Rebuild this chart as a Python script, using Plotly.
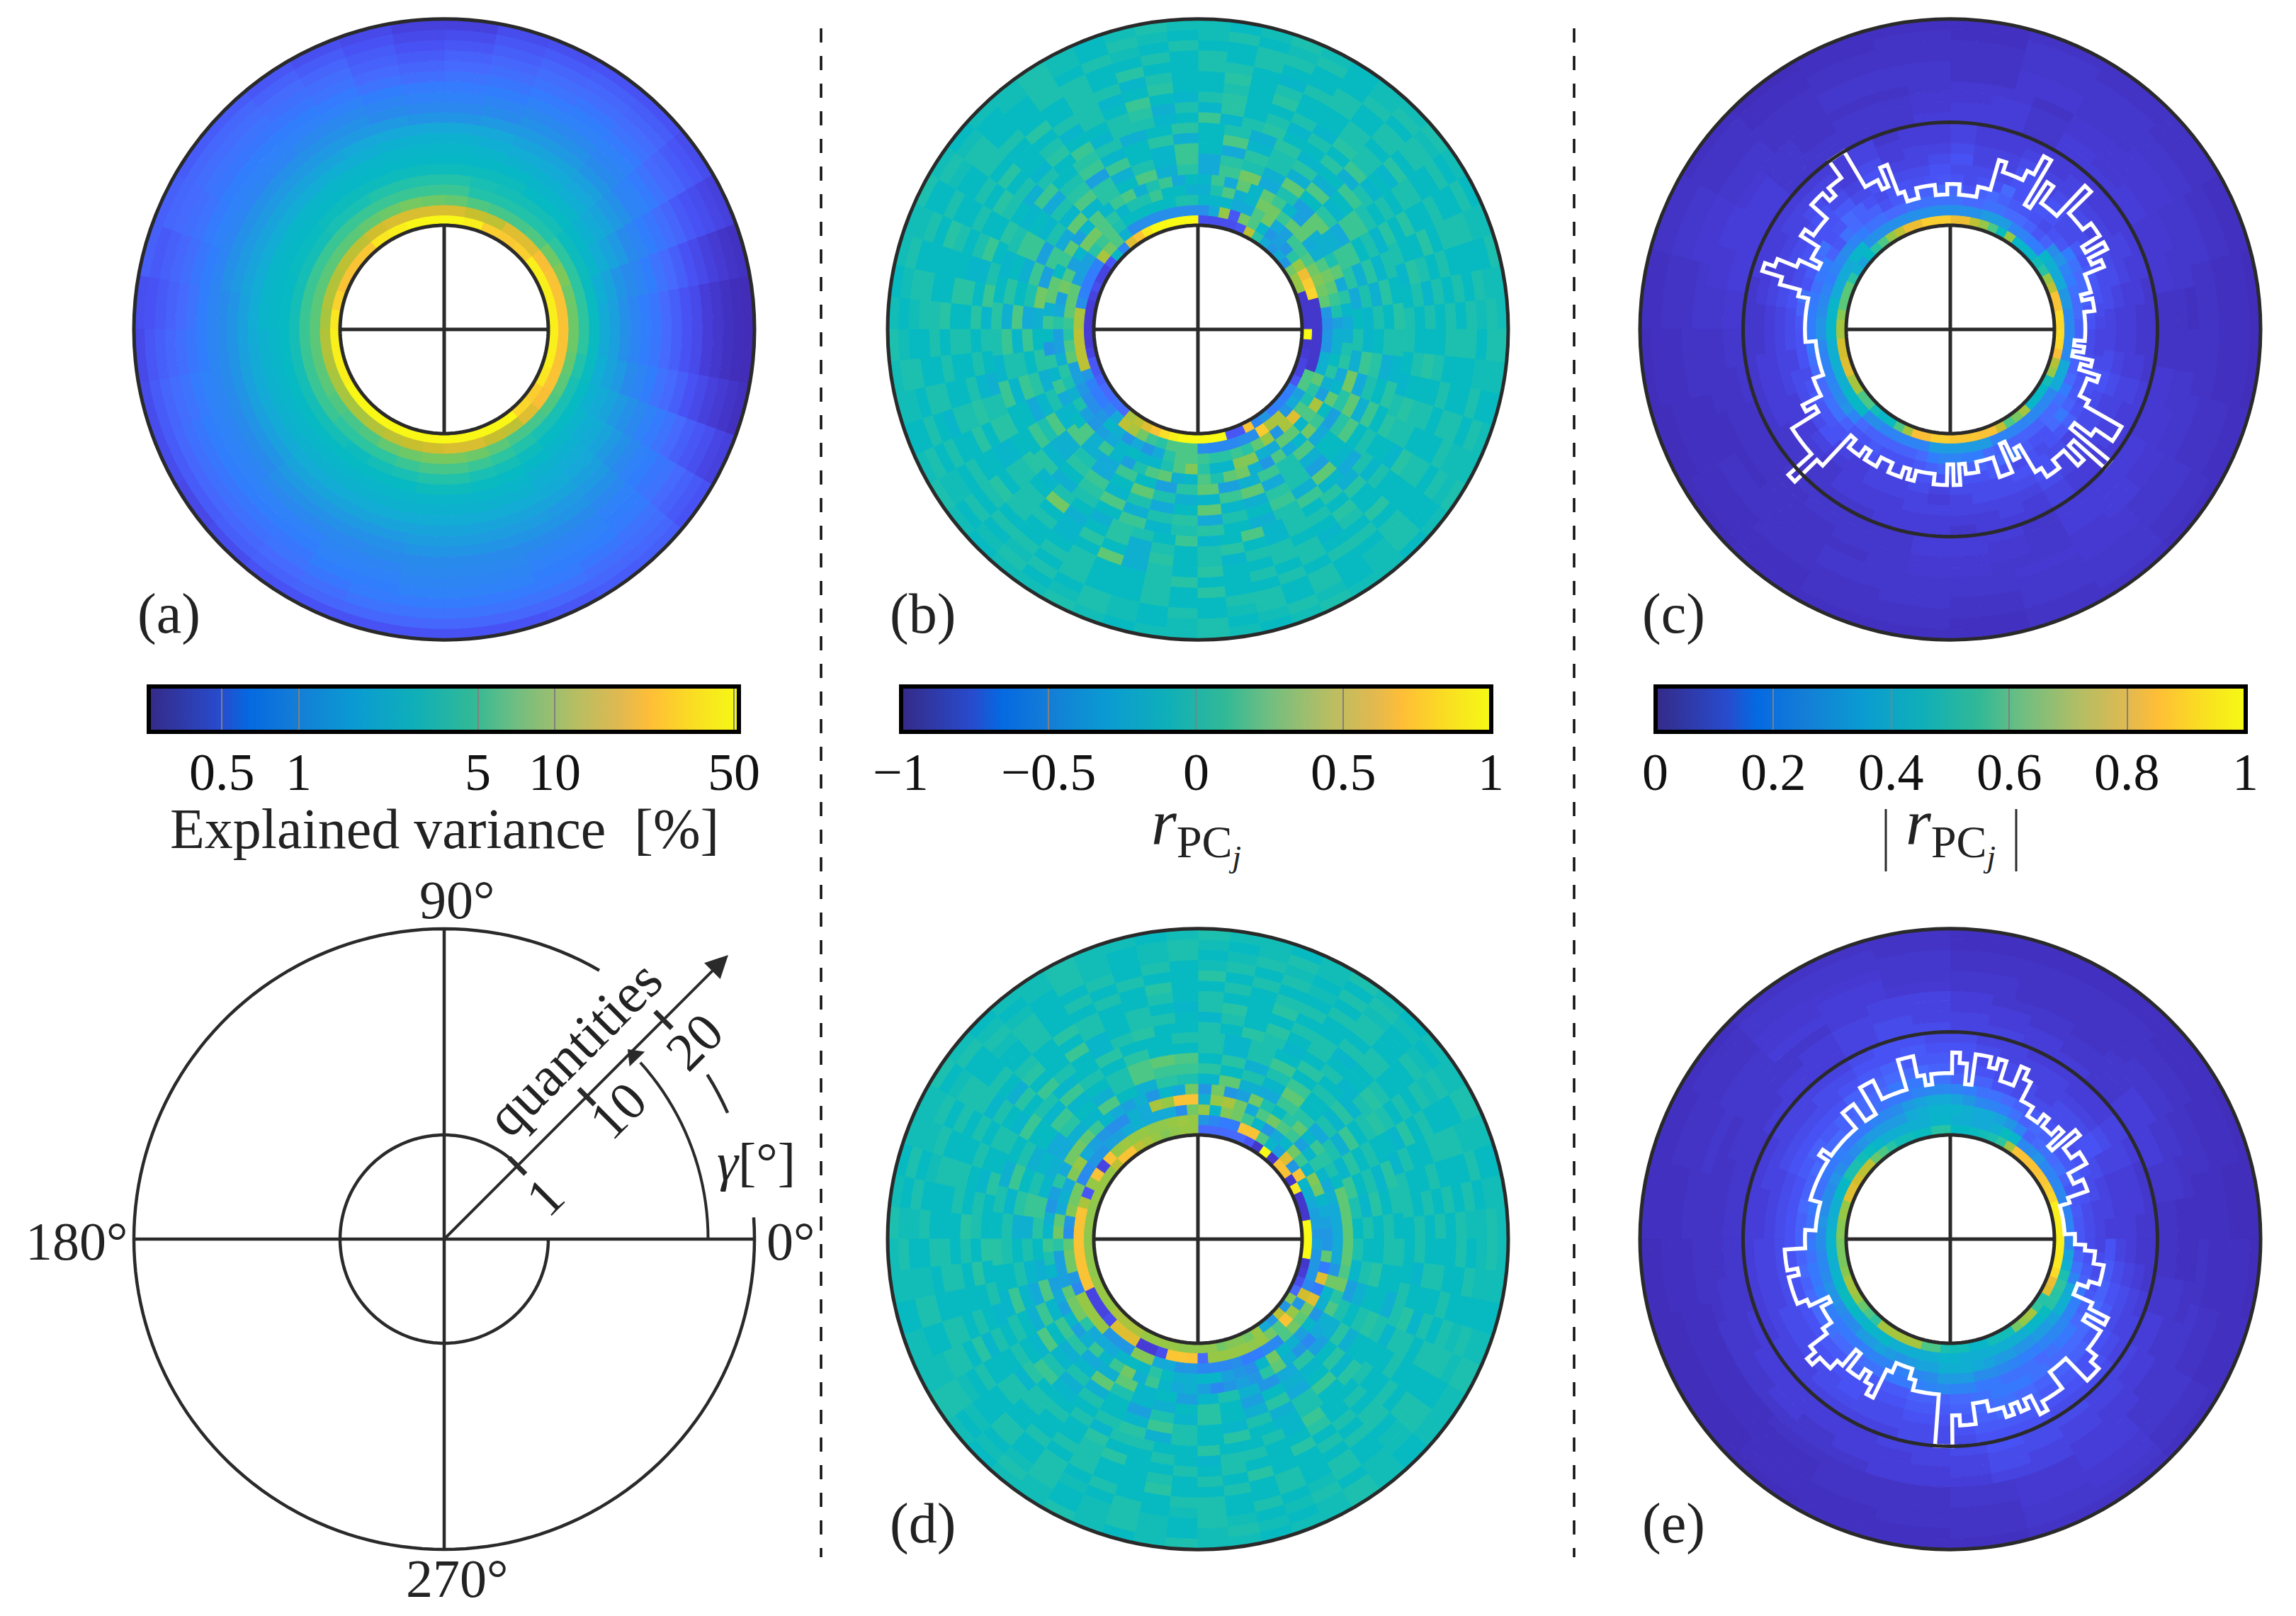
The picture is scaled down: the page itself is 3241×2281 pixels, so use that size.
import math

import plotly.graph_objects as go

W, H = 3241, 2281

# disc colours and the slightly duller colours of the printed colorbars
disc_scale = [
    [0.00, "rgb(62,38,168)"], [0.08, "rgb(70,60,215)"], [0.14, "rgb(72,82,244)"],
    [0.20, "rgb(70,106,253)"], [0.25, "rgb(50,125,253)"], [0.32, "rgb(40,140,235)"],
    [0.40, "rgb(20,170,215)"], [0.47, "rgb(5,185,195)"], [0.55, "rgb(40,195,165)"],
    [0.62, "rgb(90,200,120)"], [0.70, "rgb(150,200,70)"], [0.77, "rgb(205,190,45)"],
    [0.84, "rgb(250,190,55)"], [0.92, "rgb(250,220,40)"], [1.00, "rgb(249,251,20)"],
]
bar_scale = [
    [0.00, "rgb(53,42,135)"], [0.12, "rgb(40,75,205)"], [0.17, "rgb(5,105,225)"],
    [0.25, "rgb(20,125,215)"], [0.35, "rgb(10,155,210)"], [0.45, "rgb(15,175,185)"],
    [0.55, "rgb(50,185,150)"], [0.62, "rgb(110,190,130)"], [0.72, "rgb(180,190,100)"],
    [0.80, "rgb(225,185,80)"], [0.85, "rgb(255,190,55)"], [0.92, "rgb(250,220,35)"],
    [1.00, "rgb(245,250,20)"],
]

# (a) explained variance [%], quantity 1 (inner) to 20 (outer), 10 deg sectors from 0 deg
variance_rings = [
    [45,45,45,45,28,26,28,45,50,50,50,45,40,25,24,24,30,40,45,45,45,50,50,50,50,50,50,50,50,50,50,32,28,40,45,45],
    [24,24,24,22,18,18,14,15,17,17,17,17,16,14,14,13,13,12,13,13,12,12,12,13,14,15,16,17,17,15,14,18,22,24,24,24],
    [8,8,9,8,6.5,6,6,6.5,7.5,8,8.5,8,7.5,7,7,7,7,7,7,7,7,6.5,6,6.5,7.5,8,8.5,8.5,8,7,6,6,6.5,7,7.5,8],
    [5,5,5,5,4.5,4.5,4.5,4.5,5.5,5.5,5.5,5.5,5.5,5.5,5.5,5.5,5.5,5.5,5.5,5.5,5.5,5.5,5,5,5,5.5,6,6,5.5,5,4.5,4,4,4,4.5,5],
    [3.3,3.3,3.5,3.5,3.8,3.8,3.8,4,4.5,4.5,4.5,4.5,4,4,3.8,3.8,3.8,3.8,3.8,3.8,3.8,3.8,3.8,3.5,3.8,4,4.5,4.5,4,3.8,3.5,3.2,3.2,3.2,3.3,3.3],
    [2.2,2.4,2.8,3,3.2,3.2,3.5,3.5,3.5,3.5,3.5,3.5,3.5,3.5,3.3,3.3,3.2,3.2,3.2,3.2,3.2,3.2,3.2,3.2,3.2,3.2,3.5,3.5,3.3,3.2,3,2.8,2.7,2.5,2.4,2.2],
    [1.9,2,2.3,2.5,2.8,2.8,3,3,3,3,3,3,3,3,3,3,3,3,2.8,2.8,2.8,2.8,2.8,2.8,2.8,2.8,2.8,2.8,2.8,2.8,2.6,2.5,2.4,2.2,2,1.9],
    [1.5,1.6,2,2.2,2.4,2.5,2.6,2.7,2.8,2.8,2.8,2.8,2.8,2.8,2.8,2.8,2.8,2.8,2.6,2.6,2.6,2.6,2.6,2.6,2.6,2.6,2.6,2.6,2.6,2.6,2.4,2.3,2.2,2,1.7,1.5],
    [1.2,1.4,1.7,2,2.1,2.2,2.3,2.4,2.5,2.5,2.5,2.4,2.4,2.3,2.3,2.3,2.3,2.3,2.2,2.2,2.2,2.2,2.3,2.3,2.3,2.3,2.3,2.3,2.3,2.3,2.2,2.1,2,1.7,1.4,1.2],
    [1,1.2,1.4,1.7,1.9,2,2,2.1,2.1,2.1,2.1,2.1,2,2,2,2,2,1.9,1.9,1.9,1.9,1.9,2,2,2,2,2,2,2,2,2,1.9,1.7,1.5,1.2,1],
    [0.9,1,1.2,1.5,1.6,1.7,1.7,1.7,1.6,1.6,1.7,1.7,1.7,1.7,1.7,1.7,1.7,1.6,1.6,1.6,1.6,1.6,1.7,1.7,1.7,1.7,1.8,1.8,1.8,1.8,1.7,1.7,1.5,1.3,1,0.9],
    [0.75,0.85,1,1.2,1.4,1.5,1.5,1.4,1.3,1.3,1.4,1.5,1.5,1.5,1.5,1.5,1.5,1.4,1.4,1.4,1.4,1.4,1.5,1.5,1.5,1.5,1.6,1.6,1.6,1.6,1.6,1.5,1.3,1.1,0.85,0.75],
    [0.65,0.75,0.9,1.1,1.2,1.3,1.3,1.2,1.1,1.1,1.2,1.3,1.3,1.2,1.2,1.2,1.2,1.2,1.2,1.2,1.2,1.2,1.3,1.3,1.3,1.4,1.4,1.4,1.4,1.4,1.4,1.3,1.1,0.95,0.75,0.65],
    [0.55,0.65,0.8,0.95,1.1,1.1,1.1,1,0.95,0.95,1,1.1,1.1,1.1,1.1,1.1,1,1,1,1.1,1.1,1.1,1.1,1.1,1.2,1.2,1.3,1.3,1.3,1.2,1.2,1.1,1,0.85,0.65,0.55],
    [0.48,0.55,0.7,0.85,0.95,1,0.95,0.9,0.85,0.8,0.85,0.95,1,1,1,0.95,0.9,0.85,0.9,0.95,1,1,1,1,1.1,1.1,1.2,1.2,1.2,1.1,1.1,1,0.9,0.75,0.55,0.48],
    [0.4,0.48,0.6,0.75,0.85,0.9,0.85,0.8,0.75,0.7,0.75,0.85,0.9,0.9,0.9,0.85,0.8,0.75,0.8,0.85,0.9,0.9,0.9,0.9,1,1,1.1,1.1,1.1,1,1,0.95,0.85,0.65,0.48,0.4],
    [0.36,0.42,0.55,0.7,0.78,0.8,0.78,0.72,0.68,0.62,0.68,0.78,0.82,0.85,0.85,0.8,0.72,0.68,0.72,0.78,0.82,0.82,0.82,0.85,0.9,0.95,0.95,0.95,0.95,0.95,0.9,0.85,0.75,0.58,0.42,0.36],
    [0.33,0.38,0.5,0.62,0.7,0.72,0.7,0.65,0.58,0.55,0.62,0.7,0.76,0.78,0.78,0.75,0.66,0.6,0.65,0.7,0.72,0.72,0.72,0.75,0.8,0.85,0.85,0.85,0.85,0.85,0.8,0.8,0.68,0.52,0.38,0.33],
    [0.31,0.35,0.46,0.56,0.63,0.65,0.62,0.58,0.5,0.48,0.55,0.62,0.68,0.72,0.72,0.72,0.6,0.55,0.58,0.62,0.62,0.62,0.65,0.68,0.7,0.72,0.72,0.72,0.72,0.72,0.72,0.72,0.6,0.46,0.35,0.31],
    [0.3,0.33,0.42,0.5,0.55,0.55,0.52,0.5,0.42,0.42,0.48,0.52,0.58,0.62,0.62,0.66,0.66,0.52,0.48,0.5,0.5,0.47,0.5,0.55,0.55,0.55,0.55,0.55,0.55,0.58,0.62,0.65,0.55,0.42,0.32,0.3],
]

# (b) correlation x100, PC 1
b_rings = [
    [-88,-88,-88,-88,40,40,30,-30,-20,-30,-20,10,50,-70,-75,-75,-75,-75,100,100,100,100,100,90,70,60,-40,-10,-70,-80,-80,-75,-80,-85,-85,-85,-85,-85,-80,-70,-70,-65,-60,-60,-55,-60,45,50,60,70,85,95,100,100,100,100,100,-70,-70,70,-40,-30,-50,-45,-50,-45,-70,-80,-80,-85,-88,100],
    [-88,-88,-88,80,75,65,40,10,-30,-25,-30,-10,20,30,-70,40,-20,-35,-35,-35,-35,-35,-35,-35,-35,-15,20,30,45,-45,-50,-50,-45,-35,45,45,50,50,50,50,-30,-45,-50,-50,-40,-20,50,45,30,15,10,20,20,20,-35,-40,-40,-40,-35,-35,75,45,45,-30,-20,-25,20,20,-88,-88,-88,-88],
    [-35,-30,25,30,35,30,20,15,15,-25,-20,30,20,-20,-20,-10,-10,-10,5,5,-5,-5,-5,-5,-5,5,20,15,10,-25,-25,-25,25,25,25,15,10,20,25,-25,-25,-30,-35,-35,-30,-10,-15,-30,-20,-30,-20,10,20,20,15,10,10,15,10,25,40,-30,45,60,20,5,10,25,-15,-15,-30,-30],
    [-25,5,15,25,30,20,-15,-20,25,25,15,30,30,-10,-15,20,5,-15,-15,-5,-5,15,5,5,-10,10,20,30,30,-10,-25,20,30,-25,-20,10,-25,-25,-15,10,5,-15,5,-25,-30,-25,-20,-10,-5,-10,-10,5,20,35,10,-10,-10,35,35,-15,-20,25,25,-10,20,45,-25,-15,10,-5,-15,-15],
    [-20,-10,10,-20,25,5,-15,-15,25,-25,-10,15,25,-10,25,-20,15,-10,-5,-20,15,5,-15,20,15,-10,20,-10,-25,25,15,-5,25,25,-15,15,-5,-30,10,-10,15,-20,-10,-5,20,-15,15,-10,-25,5,20,25,-15,-10,20,5,25,30,-15,-30,20,-20,-10,30,15,-5,25,-10,-20,10,5,-15],
    [-5,-20,10,15,-15,25,-25,5,-20,30,15,-20,10,-15,20,-5,10,-10,25,-20,15,-25,30,-15,-5,10,-15,5,-10,20,-15,-20,15,-5,-25,10,25,-25,-15,15,5,20,-20,-25,10,30,-15,5],
    [-10,5,-15,15,-20,10,-5,25,-15,5,10,-20,15,-10,5,-15,10,20,-10,5,-25,15,5,-20,15,-5,10,-10,20,-15,5,-20,-5,25,5,-15,-10,15,25,-20,5,-15,-5,10,25,-20,15,-10],
    [5,-15,10,-5,15,-10,20,-15,5,10,-20,-5,15,-10,-5,15,-25,10,5,-10,15,-15,-5,20,-10,5,15,-20,5,-15,10,15,-10,5,-20,-5,25,-10,-15,10,5,-25,-5,20,-15,5,10,-5],
    [-5,10,-10,5,15,-5,-15,10,5,-10,20,-5,-15,10,-5,-10,15,5,-20,-5,15,-5,10,-15,15,5,-10,-5,15,-10,-5,10,20,-15,5,10,-20,5,-5,15,-15,25,-10,-5,15,-5,-15,5],
    [10,-5,5,-10,5,15,-5,-10,10,-15,5,-5,10,-5,-15,5,10,-5,15,-10,5,-10,-5,10,5,-10,15,-5,-5,10,-15,5,-5,15,-10,5,10,-5,-15,5,15,-10,-20,5,-5,10,-10,5],
    [5,-5,-10,5,10,-5,5,-15,10,-5,-5,10,5,-10,15,-5,-10,5,5,-10,15,-5,5,-15,-5,10,-5,5,15,-10,5,-5,-15,5,10,-5,10,-10,5,-5,-15,10,5,-5,15,-10,-5,20,-10,5,-5,10,-15,5,-5,10,5,-10,-5,5],
    [-5,5,10,-5,-5,5,-10,15,-5,5,-10,5,-5,10,-10,5,-15,10,5,-5,-5,10,-10,5,5,-5,15,-10,-5,10,-5,5,-10,5,10,-10,5,-5,30,-15,-5,10,-15,5,-5,5,10,-5,-10,5,5,-5,10,-10,-5,5,10,-5,5,-5],
    [5,-10,5,-5,10,-5,-5,5,10,-10,5,-5,-5,10,5,-10,-5,15,-5,5,-10,5,-5,-5,10,-5,5,-10,10,-5,5,-5,5,10,-5,-10,5,5,-5,-10,10,-5,-15,10,-5,5,-10,5,5,-5,-5,10,-5,5,-10,5,5,-5,10,-5],
    [-5,5,-5,10,-5,5,-10,5,5,-5,-5,10,-5,5,-5,-5,10,-5,-10,5,5,-5,-5,10,-5,5,-5,-5,10,-5,5,-5,-5,5,10,-5,-5,5,5,-10,-5,25,-15,5,-5,10,-5,-5,5,5,-10,5,-5,-5,10,-5,5,-5,5,-5],
    [5,-5,5,-5,-5,5,10,-5,5,-5,-5,5,-5,10,-5,-5,5,-10,5,5,-5,10,-5,-5,5,-5,5,-5,-5,10,-5,5,-5,5,-5,-5,10,5,-5,-5,5,-5,-5,5,10,-5,-5,5,-5,5,-5,-5,10,-5,5,-5,-5,5,-5,5],
    [-5,5,-5,5,5,-5,-5,5,-5,5,5,-10,-5,5,5,-5,-5,10,-5,5,-5,-5,5,5,-5,-5,10,-5,-5,5,5,-5,5,-10,-5,5,5,-5,-5,5,5,-5,-5,5,-5,10,-5,-5,5,-5,5,5,-5,-5,5,-5,5,-5,-5,5],
    [5,-5,-5,5,-5,-5,5,5,-5,5,-5,-5,5,-5,5,-5,5,-5,-5,5,5,-5,-5,5,-5,5,-5,-5,5,5,-5,-5,5,-5,5,-5,-5,5,5,-5,5,-5,-5,5,-5,-5,5,5,-5,5,-5,-5,5,-5,-5,5,5,-5,-5,5],
    [0,5,-5,5,-5,5,5,-5,5,-5,-5,5,5,-5,-5,5,-5,0,5,-5,5,-5,-5,5,0,-5,5,-5,5,0,-5,5,-5,5,-5,0,5,-5,0,5,-5,5,0,-5,5,-5,0,5,-5,5,-5,0,5,-5,5,0,-5,5,0,-5],
    [5,0,-5,0,5,-5,0,5,0,-5,5,0,-5,5,0,-5,0,5,-5,0,5,0,-5,0,5,-5,0,5,0,-5,0,5,0,-5,5,0,-5,0,5,-5,0,5,0,-5,0,5,-5,0,5,0,-5,0,5,-5,0,0,5,-5,0,5],
    [0,0,5,0,-5,0,5,0,0,-5,0,5,0,-5,0,0,5,0,-5,0,5,0,0,-5,0,5,0,0,-5,0,5,0,0,-5,0,5,0,-5,0,0,5,0,-5,0,0,5,0,-5,0,5,0,0,-5,0,5,0,0,-5,0,5],
]

# (c) absolute correlation x100, PC 1
c_rings = [
    [90,92,85,85,75,70,55,50,45,45,45,70,48,60,70,75,82,82,88,88,88,82,82,75,70,60,55,47,38,42,55,62,62,62,68,72,72,78,78,80,80,72,72,60,60,50,45,48,60,72,84,84,88,88,86,86,86,85,85,76,60,66,72,45,46,46,50,70,74,84,90,92],
    [30,30,35,35,40,40,42,45,25,25,28,28,36,36,36,33,33,33,33,33,33,33,33,33,33,33,33,45,45,40,40,40,40,45,45,45,45,42,42,42,42,42,46,46,46,32,32,28,28,28,28,28,36,36,36,36,36,36,28,28,28,28,30,30,30,30,40,40,40,30,30,30],
    [18,20,20,22,25,28,34,32,18,15,18,20,20,22,22,20,20,22,22,22,22,22,20,20,22,22,25,28,32,30,28,25,28,30,32,34,34,30,28,28,28,30,32,34,28,20,18,18,18,18,18,20,25,28,28,25,25,20,18,18,18,18,18,20,20,22,25,20,18,18,16,18],
    [14,15,18,20,20,22,25,15,14,12,14,15,16,18,20,18,14,20,20,18,18,16,16,14,18,18,20,22,15,18,25,24,22,24,25,25,25,24,22,20,20,20,22,22,18,15,14,16,14,14,14,16,18,20,20,18,18,16,20,24,16,14,14,20,24,18,16,15,14,13,12,12],
    [11,12,14,15,16,14,16,12,12,14,15,14,14,20,14,14,12,14,15,14,13,14,15,12,14,18,20,15,14,22,20,16,14,22,18,15,14,14,14,12,14,16,15,15,14,15,12,14,12,12,12,14,14,14,16,14,14,16,14,12,14,12,14,15,18,14,12,14,15,12,10,10],
    [10,12,12,14,12,12,14,12,14,12,12,12,14,12,12,14,12,16,14,14,14,12,14,12,12,10,12,12,12,14,10,8,10,10,12,10,12,12,12,14,14,12,10,12,12,14,12,10],
    [8,10,12,12,10,12,12,10,14,10,10,14,12,10,10,14,10,12,14,12,12,10,12,10,10,10,10,8,8,10,8,8,10,10,10,8,10,12,12,12,14,10,10,12,10,12,10,8],
    [8,8,10,10,10,10,10,10,12,10,10,12,10,10,8,12,8,10,12,10,10,10,10,8,8,8,8,8,8,8,6,8,8,8,10,10,10,10,10,10,12,10,10,10,10,10,8,8],
    [6,8,8,10,8,8,10,8,10,8,8,10,8,8,8,10,8,10,10,10,8,8,8,6,6,8,8,8,6,6,6,8,8,8,8,8,8,8,10,8,10,8,8,10,8,10,8,6],
    [6,6,8,8,8,8,8,8,8,8,8,10,8,8,6,10,8,8,8,8,8,8,6,6,6,6,6,6,6,6,6,6,6,8,8,8,6,8,8,8,10,8,8,8,8,8,6,6],
    [5,7,7,8,8,8,6,8,8,8,6,6,6,6,8,8,8,7,6,6,5,5,6,6,6,6,8,8,8,6,8,8,8,7,7,5],
    [5,7,7,8,7,8,6,8,8,7,6,6,6,6,8,8,8,7,6,5,5,5,5,6,6,6,8,8,7,6,8,8,8,7,7,5],
    [5,6,7,7,7,7,6,8,7,7,6,6,5,6,8,8,7,6,5,5,5,5,5,5,6,6,7,7,7,6,8,8,7,7,6,5],
    [4,6,6,7,7,7,5,7,7,6,5,5,5,6,7,8,7,6,5,5,4,4,5,5,5,6,7,7,6,6,7,8,7,6,6,5],
    [5,6,7,6,7,5,6,6,5,6,7,6,5,4,5,5,6,6,6,7,7,6,6,5],
    [5,6,6,6,7,5,6,6,5,6,7,5,5,4,5,5,6,6,6,6,7,6,5,5],
    [4,5,6,6,6,5,5,5,5,5,6,5,4,4,4,5,5,6,5,6,6,6,5,4],
    [4,5,5,6,6,5,5,5,4,5,6,5,4,4,4,4,5,5,5,6,6,5,5,4],
    [4,4,5,5,6,4,5,4,4,5,5,4,4,3,4,4,5,5,4,5,6,5,4,4],
    [3,4,5,5,5,4,4,4,3,4,5,4,3,3,3,4,4,4,4,5,5,4,4,3],
]

# (d) correlation x100, PC 2
d_rings = [
    [100,100,-88,-88,-88,90,-88,70,70,-88,100,-88,-70,-60,-60,-60,-60,-60,40,40,38,35,40,45,50,70,70,50,40,40,40,40,38,38,38,38,38,38,38,38,40,40,40,40,45,45,45,45,40,40,40,40,38,38,38,38,30,35,35,30,40,-20,-30,50,-30,35,-60,-75,-85,-88,100,100],
    [-30,-25,-25,-20,-15,-10,70,-30,60,-25,-10,20,70,70,-50,-50,-40,-30,40,42,40,38,38,40,40,42,40,70,-80,70,40,-70,45,70,70,70,70,70,70,70,70,-80,-80,-80,-75,60,60,60,-85,-85,-75,72,72,70,-60,40,40,40,40,38,40,30,20,70,40,-30,55,-40,-30,-30,-30,-25],
    [-30,-25,-20,-10,30,35,-10,15,30,-10,-20,-30,-10,15,30,35,-10,40,30,-35,-20,-20,-20,-15,-20,-25,-25,-30,-30,-35,-40,30,30,35,-30,-35,25,30,30,-30,-40,40,40,40,40,-30,-30,-30,35,35,-20,-20,-30,-30,-40,-40,-40,-35,-50,-50,-40,-40,20,30,25,30,60,-50,60,-50,25,-30],
    [-20,-20,-20,-15,-20,-10,10,-10,-25,15,20,30,20,-20,30,45,40,-15,70,70,40,45,-20,-15,-35,-35,-30,-25,-20,40,35,-20,-15,-20,25,30,10,-25,-25,-25,25,30,30,10,-20,-20,-20,-10,-5,-10,10,-5,-15,-15,-10,-10,-25,-30,-35,-10,30,-10,-15,-25,-10,-30,-15,-10,30,-30,-20,-20],
    [25,25,25,25,-5,5,10,15,-10,25,10,-5,5,30,-25,-30,30,-30,30,-20,-10,-30,-15,-25,-20,-10,15,25,30,30,-20,10,-25,-30,-15,-10,15,5,-10,-25,-20,-25,-10,-25,-15,15,-10,15,30,-15,15,-10,-20,-15,-25,-40,-30,-25,-30,10,25,-15,-30,-40,-20,-15,20,10,30,20,25,25],
    [-5,5,15,-10,5,-20,10,15,-20,-15,25,-10,5,10,-15,-5,20,-10,-15,-20,-15,-10,15,10,-5,-15,20,-10,15,10,-20,-15,25,-10,-5,-25,-10,5,-15,-30,-20,10,-25,-15,5,-25,-10,5],
    [5,-10,-5,10,-15,5,-5,25,-10,5,-5,10,15,15,20,5,-15,-5,10,-20,-10,5,15,-15,5,-10,-20,15,-5,-15,-10,25,5,-10,-15,-5,10,-5,-25,-5,-15,-10,-5,10,-5,-15,5,-5],
    [-5,10,5,-5,15,-10,-5,15,5,-15,10,-5,20,25,20,5,-5,-10,15,-5,-15,-5,10,-15,-5,5,-10,-15,20,-10,5,-15,-5,-25,5,-10,10,-5,-15,10,-20,-5,10,-15,5,-5,10,-5],
    [5,-5,-10,5,-5,10,5,-5,15,5,-10,5,-5,-5,10,-5,5,15,-10,-5,5,15,-10,5,5,-5,15,-5,-10,5,-15,5,-5,-10,15,5,-5,-10,5,-15,5,15,-10,-5,10,-5,-5,5],
    [-5,5,10,-5,5,-10,-5,10,-5,5,-10,5,5,-5,-5,10,-5,-10,5,15,-5,-15,5,-5,10,-5,-10,5,-5,15,-10,-5,5,10,-15,5,-5,10,-5,-10,5,-5,10,-5,5,-15,-5,5],
    [-5,5,5,-10,-5,10,5,-10,5,-5,-10,5,10,-5,5,-5,-5,10,5,-10,-5,5,15,-5,-10,5,-5,10,-5,-5,10,-5,5,-10,-5,5,10,-5,-5,5,-10,5,5,-5,-5,10,-5,-5,5,-10,15,-5,-5,5,-5,-10,5,5,-5,-5],
    [5,-5,-5,5,-10,5,10,-5,-5,5,-5,10,-5,5,-10,-5,5,5,-5,-10,15,-5,-5,10,-5,5,-5,-10,5,5,-5,10,-5,-5,5,-5,-10,5,5,-5,10,-5,-5,5,-5,-10,5,5,-5,-5,10,-5,5,-5,-5,5,10,-5,-10,5],
    [-5,5,-5,-5,10,-5,5,-5,-10,5,5,-5,-5,10,5,-10,-5,5,-5,5,-5,-5,10,-15,5,-5,5,-5,-5,10,5,-5,-5,5,-10,-5,5,5,-5,-5,5,10,-5,-5,5,-5,5,-5,-5,10,-5,5,-5,-5,5,5,-10,-5,5,-5],
    [5,-5,5,-5,-5,5,-5,5,5,-5,-5,10,-5,-5,5,-5,5,-5,-5,5,10,-5,5,-5,-10,5,-5,5,5,-5,-5,5,-5,-5,10,-5,5,-5,-5,5,5,-5,-5,5,-5,5,-5,10,-5,-5,5,-5,5,5,-5,-5,5,-5,5,-5],
    [-5,5,-5,5,5,-5,-5,5,-5,-5,5,5,-5,5,-5,-5,10,-5,5,-5,-5,5,-5,5,5,-5,-5,5,-5,-5,5,5,-5,5,-5,5,-5,-5,5,-5,5,-5,-5,10,-5,-5,5,-5,5,-5,-5,5,5,-5,-5,5,-5,5,-5,-5],
    [5,-5,-5,5,-5,5,-5,-5,5,5,-5,-5,5,-5,10,-5,-5,5,-5,5,-5,5,-5,-5,5,5,-5,5,-5,-5,5,-5,-5,5,5,-5,-5,5,-5,5,-5,5,-5,-5,5,5,-5,-5,5,-5,5,-5,-5,5,-5,5,5,-5,-5,5],
    [0,5,-5,5,-5,0,5,-5,5,-5,0,5,-5,5,0,-5,5,-5,5,-5,-5,5,0,-5,5,-5,5,0,-5,5,-5,0,5,-5,5,0,-5,5,-5,5,0,-5,5,-5,0,5,-5,5,-5,0,5,-5,0,5,-5,5,0,-5,5,-5],
    [0,-5,5,0,-5,5,0,-5,0,5,-5,0,5,0,-5,5,0,-5,0,5,-5,0,5,-5,0,5,0,-5,5,0,-5,0,5,-5,0,5,0,-5,0,5,-5,0,5,0,-5,5,0,-5,0,5,-5,0,0,5,-5,0,5,-5,0,0],
    [5,0,-5,0,5,0,-5,0,5,-5,0,5,0,-5,0,5,0,-5,0,5,0,-5,0,5,-5,0,0,5,-5,0,5,0,-5,0,0,5,-5,0,5,0,-5,0,5,0,-5,0,5,0,-5,0,5,0,-5,0,0,5,0,-5,0,5],
    [0,0,-5,0,5,0,0,-5,0,5,0,-5,0,0,5,0,-5,0,0,5,0,0,-5,0,5,0,0,-5,0,5,0,0,-5,0,0,5,0,-5,0,0,5,0,-5,0,5,0,0,-5,0,0,5,0,-5,0,0,5,0,-5,0,0],
]

# (e) absolute correlation x100, PC 2
e_rings = [
    [97,97,97,97,90,88,86,85,85,85,85,72,56,52,50,48,47,47,55,55,48,48,50,50,55,60,64,75,75,78,80,80,70,70,68,68,66,66,66,68,72,72,70,64,60,56,72,72,72,72,72,60,60,52,50,50,45,45,50,50,50,65,70,72,56,54,80,82,92,95,96,97],
    [26,28,28,28,30,30,28,30,34,32,30,45,48,42,40,40,42,42,45,45,42,42,42,42,42,45,48,50,52,52,46,46,42,42,42,44,44,44,42,44,46,48,48,46,44,46,44,46,42,42,42,42,42,44,44,42,42,42,42,42,42,42,45,46,48,55,55,56,52,42,38,30],
    [15,15,16,15,15,18,22,20,22,20,18,28,35,38,40,40,42,44,44,44,42,40,36,36,36,36,34,32,28,32,34,32,32,32,34,32,32,30,30,32,34,34,32,30,32,36,36,38,36,34,36,38,38,42,42,42,40,38,36,36,34,34,36,36,38,42,42,40,28,22,18,15],
    [12,12,12,14,14,18,16,16,18,18,20,18,22,26,28,30,35,38,40,40,38,36,32,30,28,24,24,24,26,24,24,22,22,24,22,22,24,22,24,24,26,24,26,24,24,24,26,28,28,26,28,30,32,36,36,36,32,32,30,28,26,26,28,30,30,28,26,24,18,16,14,12],
    [10,10,10,12,12,14,14,12,14,14,16,16,18,20,22,22,26,28,30,30,28,24,24,22,20,20,18,20,20,18,20,18,18,20,18,18,18,18,20,18,20,20,20,22,20,20,20,22,22,24,24,26,28,30,28,28,24,24,22,22,22,20,22,24,24,20,18,16,14,12,12,10],
    [8,10,10,12,14,12,12,12,12,14,18,18,22,24,24,20,20,18,16,18,16,14,14,14,14,14,14,14,14,16,16,18,16,16,18,18,20,22,24,24,22,20,20,20,20,18,16,14],
    [8,8,8,10,14,12,12,10,12,12,14,16,18,20,20,18,18,14,14,14,14,12,12,12,12,12,12,12,12,14,14,14,14,14,16,16,18,20,22,20,18,18,18,16,16,14,12,10],
    [8,8,8,10,12,10,10,10,10,12,12,14,16,16,18,16,14,12,12,12,12,10,10,10,10,10,10,12,12,12,12,14,12,12,14,14,16,18,20,18,16,16,14,14,12,12,10,8],
    [6,8,8,10,10,8,8,10,10,10,12,14,14,16,14,14,12,12,10,10,10,10,8,8,10,10,10,10,10,10,12,12,12,12,12,12,14,16,16,16,14,14,14,12,10,10,8,6],
    [6,6,6,8,10,8,8,8,8,10,10,12,12,14,14,12,10,10,10,10,8,8,8,8,8,8,8,8,10,10,10,10,10,10,12,12,12,14,14,14,12,12,12,10,10,8,6,6],
    [5,6,8,8,6,8,8,10,10,12,12,10,8,8,8,6,6,6,6,6,8,8,8,8,8,10,10,12,14,12,12,10,10,8,6,5],
    [5,6,8,8,6,6,8,8,10,10,12,10,8,8,6,6,6,6,6,6,6,8,8,8,8,8,10,10,12,12,10,10,8,8,6,5],
    [4,6,6,8,6,6,6,8,8,10,10,10,8,6,6,6,5,5,5,6,6,6,8,6,8,8,8,10,12,10,10,8,8,6,6,4],
    [4,5,6,6,6,5,6,6,8,10,10,8,6,6,6,5,5,5,5,5,6,6,6,6,6,8,8,8,10,10,8,8,6,6,5,4],
    [4,5,6,5,5,6,7,8,8,6,6,5,5,4,4,5,5,5,6,7,8,6,6,5],
    [4,5,5,5,5,6,6,8,7,6,5,5,4,4,4,4,5,5,6,7,8,6,5,4],
    [4,4,5,5,5,5,6,7,7,5,5,4,4,4,4,4,5,5,5,7,7,6,5,4],
    [3,4,4,5,5,5,6,6,6,5,5,4,4,3,3,4,4,5,5,6,7,5,4,4],
    [3,4,4,4,4,4,5,6,6,5,4,4,3,3,3,4,4,4,5,6,6,5,4,4],
    [3,3,4,4,4,4,5,5,5,4,4,4,3,3,3,3,4,4,4,5,5,4,4,3],
]

# white contours: outermost quantity index per 2.5 deg, starting at 0 deg
c_contour = [
    3,3,3,4,4,3,4,4,4, 6,5,7,5,7,7,
    6,6,6, 9,5,5,5,7,4,9,7,6,6,6,7,
    4,4,3,3,3,4,4,3,3,4,4,4,3,3,4,7,5,6,6,
    10,10,8,8,7,8,8,6,6,6,7,5,5,4,6,8,9,7,5,
    4,4,4,4,4,4,4,3,3,3,3,3,3,4,4,4,6,5,8,8,8,8,11,8,
    4,5,5,4,5,5,4,4,5,5,4,5,4,4,4,5,5,3,5,3,4,4,3,3,3,5,5,2,4,3,6,7,7,6,6,8,6,10,
    5,7,9,9,5,4,4,4,5,3,4,2,3,2,3,3,
]
e_contour = [
    2,1,1,1,1,1,1,2,4,4,3,3,5,5,4,4,6,3,5,4,4,5,4,4,5,5,7,8,6,6,8,7,8,8,5,7,
    8,6,6,6,5,6,8,8,5,5,5,5,7,7,4,4,6,6,4,4,4,4,4,4,5,4,4,4,4,4,4,4,3,3,3,3,3,4,4,4,
    6,6,6,5,6,6,6,6,5,3,4,4,4,5,7,8,7,7,6,4,6,6,5,6,7,4,3,3,3,4,5,5,5,5,10,10,7,8,8,6,6,7,7,8,7,8,7,9,8,8,8,
    6,6,6,9,9,8,7,7,7,5,7,5,3,3,4,5,5,5,4,4,3,2,
]

quantity_ticks = [1, 10, 20]
variance_ticks = [0.5, 1, 5, 10, 50]
corr_ticks = [-1, -0.5, 0, 0.5, 1]
abs_corr_ticks = [0, 0.2, 0.4, 0.6, 0.8, 1]

INK = "#2a2a2a"
FONT = "Liberation Serif"
R_MIN = -10.1
R_OUT = 438
BAR_LEN = 833
DISC_CENTRES = {
    "polar": (627, 465), "polar2": (1691, 465), "polar3": (2753, 465),
    "polar4": (627, 1749), "polar5": (1691, 1749), "polar6": (2753, 1749),
}


def px(x):
    return x / W


def py(y):
    return 1 - y / H


def disc(rings, subplot, scale=100.0, offset=0.0):
    r, base, theta, width, value = [], [], [], [], []
    for k, ring in enumerate(rings):
        step = 360 / len(ring)
        for i, v in enumerate(ring):
            r.append(1)
            base.append(k)
            theta.append((i + 0.5) * step)
            width.append(step)
            value.append(v / scale + offset)
    return go.Barpolar(
        r=r, base=base, theta=theta, width=width, subplot=subplot, hoverinfo="skip",
        marker=dict(
            color=value, colorscale=disc_scale, cmin=0, cmax=1,
            line=dict(color=value, colorscale=disc_scale, cmin=0, cmax=1, width=1),
        ),
    )


def line(r, theta, subplot, color=INK, width=5):
    return go.Scatterpolar(
        r=r, theta=theta, subplot=subplot, mode="lines", hoverinfo="skip",
        line=dict(color=color, width=width), connectgaps=False, cliponaxis=False,
    )


def cross_and_hole(subplot):
    return [
        line([R_MIN, 0, None, R_MIN, 0], [0, 0, None, 180, 180], subplot),
        line([R_MIN, 0, None, R_MIN, 0], [90, 90, None, 270, 270], subplot),
        line([0] * 181, list(range(0, 362, 2)), subplot),
    ]


def contour(bins, subplot):
    r, theta = [], []
    for i, v in enumerate(bins):
        r += [v, v]
        theta += [i * 360 / len(bins), (i + 1) * 360 / len(bins)]
    return line(r + r[:1], theta + theta[:1], subplot, color="white", width=5.5)


def colorbar_trace(x, lo, hi, tickvals):
    return go.Scatter(
        x=[None], y=[None], mode="markers", hoverinfo="skip",
        marker=dict(
            color=[lo], cmin=lo, cmax=hi, colorscale=bar_scale, showscale=True,
            colorbar=dict(
                orientation="h", x=px(x), xanchor="center", y=py(969), yanchor="top",
                len=BAR_LEN, lenmode="pixels", thickness=64, xpad=0, ypad=0,
                outlinecolor="black", outlinewidth=6, ticks="inside", ticklen=64,
                tickcolor="#808080", tickwidth=2, tickvals=tickvals, showticklabels=False,
            ),
        ),
    )


def bar_labels(x, lo, hi, tickvals, ticktext):
    # tick labels sit closer to the bar than the colorbar's own labels can
    left = x - BAR_LEN / 2
    return [
        dict(text=t, x=px(left + (v - lo) / (hi - lo) * BAR_LEN), y=py(1090), xref="paper", yref="paper",
             xanchor="center", yanchor="middle", showarrow=False,
             font=dict(family=FONT, size=74, color="#111111"))
        for v, t in zip(tickvals, ticktext)
    ]


fig = go.Figure()

# panels
fig.add_trace(disc([[(math.log10(v) + 0.585) / 2.305 for v in ring] for ring in variance_rings], "polar", scale=1))
fig.add_trace(disc(b_rings, "polar2", scale=200, offset=0.5))
fig.add_trace(disc(c_rings, "polar3"))
fig.add_trace(disc(d_rings, "polar5", scale=200, offset=0.5))
fig.add_trace(disc(e_rings, "polar6"))

fig.add_trace(contour(c_contour, "polar3"))
fig.add_trace(contour(e_contour, "polar6"))

for sp in ("polar3", "polar6"):
    fig.add_trace(line([10] * 181, list(range(0, 362, 2)), sp))
for sp in ("polar", "polar2", "polar3", "polar5", "polar6"):
    for tr in cross_and_hole(sp):
        fig.add_trace(tr)

# schematic of the polar coordinates
fig.add_trace(line([20] * 153, list(range(60, 366, 2)), "polar4", width=4.5))
fig.add_trace(line([20] * 5, list(range(24, 34, 2)), "polar4", width=4.5))
fig.add_trace(line([0] * 158, list(range(46, 362, 2)), "polar4", width=4.5))
fig.add_trace(line([R_MIN, 20, None, R_MIN, 20], [0, 0, None, 180, 180], "polar4", width=4.5))
fig.add_trace(line([R_MIN, 20, None, R_MIN, 20], [90, 90, None, 270, 270], "polar4", width=4.5))
fig.add_trace(line([15.5] * 22, list(range(0, 44, 2)), "polar4", width=4))
fig.add_trace(go.Scatterpolar(
    r=[15.5], theta=[44], subplot="polar4", mode="markers", hoverinfo="skip",
    marker=dict(symbol="triangle-up", size=26, color=INK, angle=-44),
))
for q, half in zip(quantity_ticks, (6.4, 3.2, 2.2)):
    pos = (q - 1) * 20 / 19
    fig.add_trace(line([pos, pos], [45 - half, 45 + half], "polar4", width=7))

# colorbars
variance_logs = [math.log10(v) for v in variance_ticks]
fig.add_trace(colorbar_trace(627, -0.585, 1.72, variance_logs))
fig.add_trace(colorbar_trace(1688, -1, 1, corr_ticks))
fig.add_trace(colorbar_trace(2753, 0, 1, abs_corr_ticks))

texts = [
    ("(a)", 238, 866, 0, 80), ("(b)", 1302, 866, 0, 80), ("(c)", 2362, 866, 0, 80),
    ("(d)", 1302, 2150, 0, 80), ("(e)", 2362, 2150, 0, 80),
    ("Explained variance  [%]", 627, 1170, 0, 80),
    ("<i>r</i><sub>PC<sub><i>j</i></sub></sub>", 1688, 1172, 0, 92),
    ("<i>r</i><sub>PC<sub><i>j</i></sub></sub>", 2753, 1172, 0, 92),
    ("90°", 645, 1270, 0, 76), ("270°", 645, 2228, 0, 76), ("180°", 108, 1752, 0, 76), ("0°", 1116, 1752, 0, 76),
    ("quantities", 810, 1480, -45, 80), ("1", 769, 1689, -45, 76), ("10", 872, 1567, -45, 76), ("20", 980, 1470, -45, 76),
    ("<i>γ</i>[°]", 1067, 1640, 0, 76),
]
annotations = [
    dict(text=t, x=px(x), y=py(y), xref="paper", yref="paper", xanchor="center", yanchor="middle",
         showarrow=False, textangle=a, font=dict(family=FONT, size=s, color="#222222"))
    for t, x, y, a, s in texts
]
annotations += bar_labels(627, -0.585, 1.72, variance_logs, [str(v) for v in variance_ticks])
annotations += bar_labels(1688, -1, 1, corr_ticks, ["−1", "−0.5", "0", "0.5", "1"])
annotations += bar_labels(2753, 0, 1, abs_corr_ticks, [str(v) for v in abs_corr_ticks])
annotations.append(dict(
    x=px(1028), y=py(1348), ax=-401, ay=401, xref="paper", yref="paper",
    text="", showarrow=True, arrowhead=2,
    arrowsize=1.6, arrowwidth=4, arrowcolor=INK,
))

shapes = [
    dict(type="line", xref="paper", yref="paper", x0=px(x), x1=px(x), y0=py(40), y1=py(2198),
         line=dict(color="#111111", width=3.5, dash="20px,19px"))
    for x in (1159, 2222)
]
shapes += [
    dict(type="line", xref="paper", yref="paper", x0=px(x), x1=px(x), y0=py(1142), y1=py(1230),
         line=dict(color=INK, width=3))
    for x in (2662, 2846)
]

polar_axes = dict(
    radialaxis=dict(visible=False, range=[R_MIN, 20]),
    angularaxis=dict(showgrid=False, showticklabels=False, ticks="", showline=True, linecolor=INK, linewidth=5),
    bgcolor="white", bargap=0, barmode="overlay",
)
layout_polars = {}
for name, (cx, cy) in DISC_CENTRES.items():
    layout_polars[name] = dict(
        polar_axes,
        domain=dict(x=[px(cx - R_OUT), px(cx + R_OUT)], y=[py(cy + R_OUT), py(cy - R_OUT)]),
    )

# the schematic has no frame: one spare unit of radius keeps its outer circle from being clipped
spare = R_OUT * 21.1 / 30.1 + R_OUT * 10 / 30.1 - R_OUT + R_OUT / 30.1
schematic_r = R_OUT + R_OUT / 30.1
cx4, cy4 = DISC_CENTRES["polar4"]
layout_polars["polar4"] = dict(
    radialaxis=dict(visible=False, range=[R_MIN, 21]),
    angularaxis=dict(visible=False),
    bgcolor="rgba(0,0,0,0)",
    domain=dict(x=[px(cx4 - schematic_r), px(cx4 + schematic_r)], y=[py(cy4 + schematic_r), py(cy4 - schematic_r)]),
)

fig.update_layout(
    width=W, height=H, margin=dict(l=0, r=0, t=0, b=0), autosize=False,
    paper_bgcolor="white", plot_bgcolor="white", showlegend=False,
    xaxis=dict(visible=False), yaxis=dict(visible=False),
    annotations=annotations, shapes=shapes, **layout_polars,
)

fig.write_html("out.html", config={"displayModeBar": False}, post_script="document.body.style.margin='0';")
